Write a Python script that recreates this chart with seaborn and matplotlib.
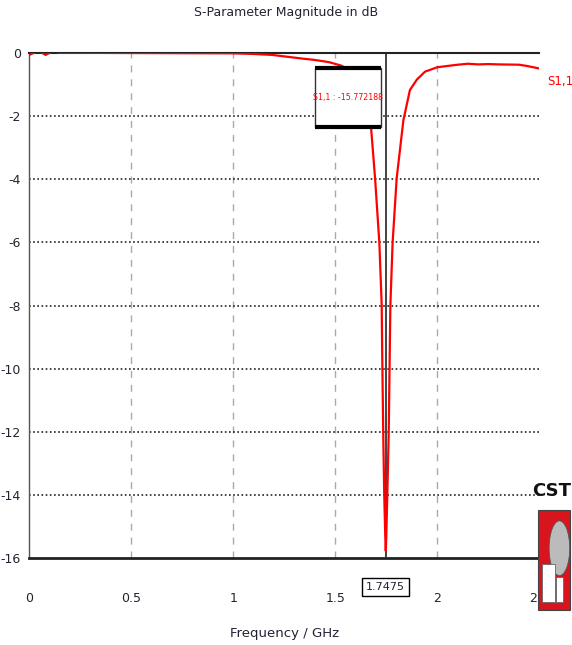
import matplotlib
matplotlib.use('Agg')
import matplotlib.pyplot as plt
import matplotlib.patches as patches
import seaborn as sns

# S11 trace
freq = [0.0, 0.045, 0.08, 0.12, 0.145, 0.5, 1.0, 1.1, 1.19, 1.33, 1.40, 1.47, 1.53,
        1.58, 1.62, 1.65, 1.675, 1.695, 1.716, 1.7275, 1.730, 1.735, 1.740, 1.745,
        1.7475, 1.750, 1.755, 1.762, 1.766, 1.770, 1.781, 1.801, 1.834, 1.866,
        1.90, 1.94, 2.0, 2.05, 2.1, 2.15, 2.2, 2.25, 2.3, 2.4, 2.44, 2.5]
s11 = [-0.07, 0.06, -0.07, 0.06, 0.0, -0.01, -0.02, -0.04, -0.07, -0.18, -0.23, -0.30, -0.41,
       -0.6, -0.9, -1.4, -2.34, -3.97, -6.01, -7.98, -9.5, -12.04, -14.0, -15.3,
       -15.77, -15.3, -14.0, -12.0, -10.0, -8.0, -6.01, -3.97, -2.13, -1.18,
       -0.85, -0.6, -0.46, -0.42, -0.38, -0.35, -0.37, -0.36, -0.37, -0.38, -0.42, -0.5]

xticks = [0, 0.5, 1, 1.5, 2, 2.5]
xtick_labels = ['0', '0.5', '1', '1.5', '2', '2.5']
yticks = [0, -2, -4, -6, -8, -10, -12, -14, -16]
marker_freq = 1.7475
marker_val = -15.772188

sns.set_style('white')
plt.rcParams['font.family'] = ['DejaVu Sans']
plt.rcParams['axes.unicode_minus'] = False

fig = plt.figure(figsize=(5.72, 6.45), dpi=100)
ax = fig.add_axes([0.0512, 0.1344, 0.8916, 0.7839])

sns.lineplot(x=freq, y=s11, color='red', linewidth=1.6, ax=ax, zorder=4)

ax.set_xlim(0, 2.5)
ax.set_ylim(-16, 0)
ax.set_xticks(xticks)
ax.set_xticklabels(xtick_labels)
ax.set_yticks(yticks)
ax.tick_params(axis='x', length=4, color='#999999', pad=20, labelsize=9, labelcolor='#222233')
ax.tick_params(axis='y', length=4, color='#222222', pad=2, labelsize=9, labelcolor='#222233')

# grid: dashed gray verticals, dotted black horizontals
for xv in xticks[1:-1]:
    ax.axvline(xv, color='#aaaaaa', linestyle=(0, (5, 5)), linewidth=1.0, zorder=0)
for yv in yticks[1:-1]:
    ax.axhline(yv, color='#222222', linestyle=(0, (1, 1.5)), linewidth=1.2, zorder=0)

ax.spines['right'].set_visible(False)
ax.spines['left'].set_color('#555555')
ax.spines['left'].set_linewidth(1.0)
ax.spines['bottom'].set_color('#222222')
ax.spines['bottom'].set_linewidth(2.0)
ax.spines['top'].set_color('#222222')
ax.spines['top'].set_linewidth(1.5)

# marker line
ax.axvline(marker_freq, color='#222222', linewidth=1.2, zorder=3)

# marker readout box (white box, heavy top/bottom borders)
bx0, bx1, by0, by1 = 1.40, 1.724, -2.35, -0.48
ax.add_patch(patches.Rectangle((bx0, by0), bx1 - bx0, by1 - by0, facecolor='white',
                               edgecolor='#333333', linewidth=1.0, zorder=5))
ax.plot([bx0, bx1], [by1, by1], color='black', linewidth=3, zorder=6, solid_capstyle='butt')
ax.plot([bx0, bx1], [by0, by0], color='black', linewidth=3, zorder=6, solid_capstyle='butt')
ax.text((bx0 + bx1) / 2, (by0 + by1) / 2, 'S1,1 : %.6f' % marker_val, color='red',
        fontsize=5.7, ha='center', va='center', zorder=7)

ax.text(marker_freq, -16.9, '1.7475', color='#222233', fontsize=8, ha='center', va='center',
        bbox=dict(boxstyle='square,pad=0.35', facecolor='white', edgecolor='black', linewidth=1.0),
        clip_on=False)

ax.text(1.015, -0.9, 'S1,1', color='red', fontsize=8.5, transform=ax.get_yaxis_transform(),
        ha='left', va='center')

fig.text(0.5, 0.981, 'S-Parameter Magnitude in dB', ha='center', va='center', fontsize=9, color='#222233')
fig.text(0.497, 0.018, 'Frequency / GHz', ha='center', va='center', fontsize=9.5, color='#222233')

# CST logo
fig.text(0.999, 0.238, 'CST', ha='right', va='center', fontsize=13, fontweight='bold', color='#111111')
fig.patches.append(patches.Rectangle((0.941, 0.054), 0.055, 0.155, transform=fig.transFigure,
                                     facecolor='#d8141c', edgecolor='#444444', linewidth=0.8))
fig.patches.append(patches.Ellipse((0.978, 0.150), 0.036, 0.085, transform=fig.transFigure,
                                   facecolor='#bbbbbb', edgecolor='#555555', linewidth=0.6))
fig.patches.append(patches.Rectangle((0.948, 0.066), 0.022, 0.060, transform=fig.transFigure,
                                     facecolor='white', edgecolor='#666666', linewidth=0.6))
fig.patches.append(patches.Rectangle((0.972, 0.066), 0.012, 0.040, transform=fig.transFigure,
                                     facecolor='white', edgecolor='#666666', linewidth=0.6))

fig.savefig('out.png', dpi=100)
